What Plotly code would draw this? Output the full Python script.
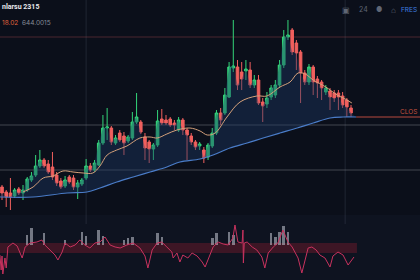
import plotly.graph_objects as go

# ---------------- data ----------------
idx = list(range(84))
opens = [23, 18, 17, 14, 21, 17, 20, 30, 35, 44, 50, 46, 43, 35, 29, 24, 33, 32, 23, 26,
         32, 44, 40, 45, 67, 82, 82, 67, 77, 74, 69, 72, 88, 88, 73, 68, 61, 65, 91, 90,
         91, 87, 80, 90, 80, 74, 68, 64, 60, 53, 64, 77, 97, 97, 113, 142, 143, 138, 139, 140,
         125, 130, 108, 106, 113, 115, 125, 145, 173, 180, 167, 158, 137, 128, 143, 131, 128, 118, 119, 117,
         117, 114, 110, 102]
highs = [25, 20, 32, 22, 23, 25, 33, 38, 55, 60, 52, 50, 58, 38, 32, 34, 35, 35, 30, 32,
         51, 47, 50, 70, 95, 102, 84, 75, 80, 78, 75, 98, 117, 90, 77, 70, 67, 100, 101, 95,
         93, 90, 93, 92, 82, 77, 70, 68, 63, 67, 82, 100, 102, 122, 148, 190, 150, 148, 150, 148,
         135, 135, 112, 118, 125, 130, 150, 180, 190, 182, 170, 160, 140, 146, 145, 134, 130, 125, 122, 120,
         120, 118, 112, 105]
lows = [10, 3, -2, 12, 15, 10, 18, 28, 33, 42, 42, 36, 30, 24, 21, 22, 26, 20, 11, 24,
        30, 38, 38, 44, 65, 70, 65, 65, 68, 55, 67, 70, 86, 76, 50, 47, 50, 63, 85, 85,
        83, 80, 78, 75, 50, 65, 60, 60, 47, 50, 62, 75, 85, 95, 112, 138, 120, 120, 130, 122,
        122, 105, 88, 102, 110, 112, 122, 142, 170, 155, 140, 107, 125, 125, 115, 112, 110, 115, 100, 108,
        100, 102, 93, 93]
closes = [17, 13, 13, 20, 17, 20, 31, 34, 44, 50, 44, 38, 33, 27, 23, 30, 28, 23, 27, 30,
          44, 40, 47, 67, 82, 83, 68, 72, 70, 67, 73, 88, 93, 78, 62, 61, 65, 89, 87, 87,
          85, 85, 90, 80, 75, 68, 63, 66, 52, 65, 77, 97, 90, 115, 143, 144, 125, 131, 141, 125,
          130, 107, 104, 112, 122, 125, 145, 173, 175, 158, 157, 137, 128, 143, 128, 127, 122, 122, 113, 112,
          113, 105, 103, 97]

# fast moving average (tan)
ma_fast_x = [5.0, 7.4, 9.8, 12.1, 14.5, 16.9, 19.3, 21.6, 23.3, 25.0, 27.3, 29.7, 32.8, 35.2, 36.9,
             39.2, 41.6, 44.7, 47.1, 48.8, 50.7, 53.5, 56.6, 60.6, 63.0, 66.1, 68.5, 70.4, 72.1,
             74.0, 77.0, 79.7, 81.6, 83.2]
ma_fast = [18, 23, 32, 34, 39, 38, 37, 37, 44, 55, 60, 64, 72, 73, 72,
           76, 80, 82, 79, 75, 77, 93, 108, 114, 114, 123, 128, 137, 136,
           130, 123, 115, 111, 107]

# slow moving average (blue)
ma_slow_x = [-0.5, 7.4, 15.5, 20.2, 23.3, 27.3, 31.2, 35.2, 39.2, 42.3, 47.1, 50.2, 54.2,
             58.3, 62.1, 66.1, 70.2, 74.0, 78.0, 81.1, 84.2]
ma_slow = [13, 13, 17, 18, 22, 28, 33, 38, 43, 48, 51, 55, 62,
           67, 72, 77, 82, 87, 92, 93, 93]

close_level = 93
upper_level = 173
grey_levels = [85, 40]

# oscillator pane
osc_x = [-0.5, -0.2, 0.0, 0.2, 0.7, 1.0, 1.4, 2.6, 3.6, 4.3, 4.8, 5.5, 6.7, 8.3, 9.5, 10.2, 11.4,
         12.6, 13.3, 14.3, 15.0, 16.2, 17.4, 18.5, 19.7, 20.9, 22.1, 23.3, 24.5, 25.7, 26.9, 28.1,
         29.7, 31.2, 32.8, 34.0, 34.7, 35.7, 36.9, 38.0, 39.2, 40.4, 40.7, 41.6, 42.3, 43.0, 44.2,
         45.2, 46.4, 47.6, 48.3, 49.5, 50.2, 51.4, 52.6, 53.8, 54.9, 55.4, 56.1, 57.1, 57.3, 57.4,
         57.6, 58.3, 59.5, 60.6, 61.8, 62.5, 63.3, 64.5, 65.6, 66.8, 68.0, 69.0, 69.7, 70.4, 71.3,
         72.1, 72.8, 73.7, 74.7, 75.6, 76.8, 78.0, 78.7, 79.9, 81.1, 82.3, 83.2, 83.7]
osc = [25, 10, 24, 6, 22, 12, 33, 37, 34, 28, 22, 33, 37, 38, 40, 35, 30,
       25, 20, 28, 37, 33, 35, 40, 35, 32, 37, 38, 43, 35, 33, 32,
       35, 37, 32, 24, 12, 30, 37, 38, 33, 28, 22, 27, 18, 25, 22,
       27, 24, 18, 13, 27, 33, 38, 36, 35, 42, 55, 38, 37, 50, 17,
       37, 38, 33, 30, 23, 12, 27, 33, 37, 50, 38, 33, 27, 22, 7,
       22, 32, 33, 30, 25, 22, 13, 24, 28, 25, 15, 20, 23]
hist_x = [6, 7, 10, 15, 19, 20, 23, 24, 29, 30, 31, 37, 38, 50, 51, 54, 55, 64, 65, 66, 67, 68]
hist = [10, 17, 12, 5, 13, 9, 15, 9, 5, 7, 8, 12, 8, 7, 12, 13, 10, 12, 8, 13, 19, 13]
hist_base = 35
band_low, band_high = 27, 37

# ---------------- figure ----------------
BG = "#0b0f1a"
fig = go.Figure()

fig.add_trace(go.Scatter(x=ma_slow_x, y=ma_slow, mode="lines", line=dict(width=0),
                         hoverinfo="skip", showlegend=False))
fig.add_trace(go.Scatter(x=idx, y=closes, mode="lines", line=dict(width=0),
                         fill="tonexty", fillcolor="rgba(28,58,100,0.42)",
                         hoverinfo="skip", showlegend=False))
fig.add_trace(go.Scatter(x=ma_slow_x, y=ma_slow, mode="lines", line_shape="spline",
                         line=dict(color="#4a7cc8", width=1.2), showlegend=False))
fig.add_trace(go.Scatter(x=ma_fast_x, y=ma_fast, mode="lines", line_shape="spline",
                         line=dict(color="#d4a07a", width=1), showlegend=False))
fig.add_trace(go.Candlestick(x=idx, open=opens, high=highs, low=lows, close=closes,
                             increasing=dict(line=dict(color="#34d67a", width=1), fillcolor="#34d67a"),
                             decreasing=dict(line=dict(color="#f0605e", width=1), fillcolor="#f0605e"),
                             whiskerwidth=0, showlegend=False))

fig.add_trace(go.Bar(x=hist_x, y=hist, base=hist_base,
                     marker=dict(color="rgba(200,204,215,0.55)", line=dict(width=0)),
                     width=0.6, xaxis="x2", yaxis="y2", showlegend=False))
fig.add_trace(go.Scatter(x=osc_x, y=osc, mode="lines", line=dict(color="#c8325e", width=1),
                         xaxis="x2", yaxis="y2", showlegend=False))

shapes = []
# indicator pane background
shapes.append(dict(type="rect", xref="paper", yref="paper", x0=0, x1=1, y0=0, y1=0.232,
                   fillcolor="#0e1320", line=dict(width=0), layer="below"))
# oscillator band
shapes.append(dict(type="rect", xref="x2", yref="y2", x0=-0.5, x1=84.4, y0=band_low, y1=band_high,
                   fillcolor="rgba(140,28,48,0.38)", line=dict(width=0), layer="below"))
# vertical grid
for vx in [20, 81.6]:
    shapes.append(dict(type="line", xref="x", yref="paper", x0=vx, x1=vx, y0=0.2, y1=1,
                       line=dict(color="rgba(130,140,160,0.18)", width=1), layer="below"))
# horizontal levels
for gl in grey_levels:
    shapes.append(dict(type="line", xref="paper", yref="y", x0=0, x1=1, y0=gl, y1=gl,
                       line=dict(color="rgba(160,160,165,0.38)", width=1), layer="below"))
shapes.append(dict(type="line", xref="paper", yref="y", x0=0, x1=1, y0=upper_level, y1=upper_level,
                   line=dict(color="rgba(190,80,90,0.35)", width=1), layer="below"))
shapes.append(dict(type="line", xref="x", yref="y", x0=84.2, x1=99.4, y0=close_level, y1=close_level,
                   line=dict(color="#b84a3e", width=1.2)))

ann = []
def txt(x, y, s, color, size, anchor="left", family="Inter"):
    ann.append(dict(x=x / 420, y=1 - y / 280, xref="paper", yref="paper", text=s, showarrow=False,
                    xanchor=anchor, yanchor="middle", font=dict(color=color, size=size, family=family)))

txt(0, 7, "<b>nlarsu 2315</b>", "#e8e8ec", 7, family="Roboto")
txt(0, 23, "18.02", "#e0643c", 6.5)
txt(20, 23, "644.0015", "#858b98", 6.5)
txt(340, 10, "▣", "#5f6675", 8)
txt(357, 10, "24", "#5f6675", 7)
txt(374, 10, "●", "#5f6675", 7)
txt(389, 10, "⌂", "#5f6675", 8)
txt(419, 10, "FRES", "#3f7fe0", 6.5, anchor="right")
txt(419, 112, "CLOS", "#c4523f", 6.5, anchor="right")

fig.update_layout(
    width=420, height=280, margin=dict(l=0, r=0, t=0, b=0),
    paper_bgcolor=BG, plot_bgcolor=BG, showlegend=False,
    shapes=shapes, annotations=ann, bargap=0, boxgap=0.12,
    xaxis=dict(domain=[0, 1], range=[-0.476, 99.4], visible=False, rangeslider=dict(visible=False)),
    yaxis=dict(domain=[0.25, 1], range=[0, 210], visible=False),
    xaxis2=dict(domain=[0, 1], range=[-0.476, 99.4], visible=False, anchor="y2"),
    yaxis2=dict(domain=[0, 0.25], range=[0, 70], visible=False, anchor="x2"),
)

fig.write_html("out.html")
